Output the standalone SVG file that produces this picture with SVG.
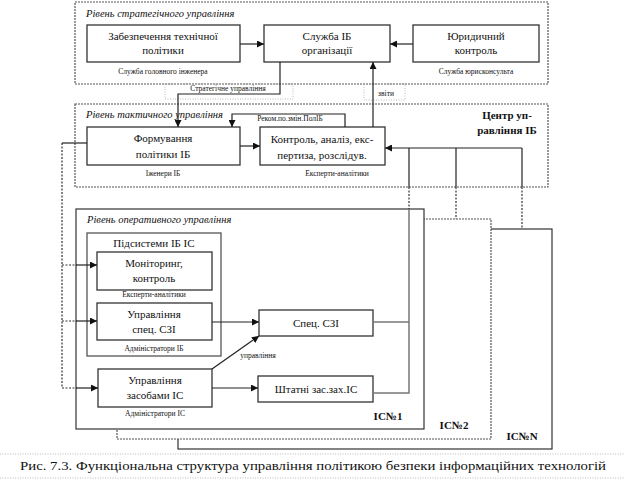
<svg xmlns="http://www.w3.org/2000/svg" width="624" height="481" viewBox="0 0 624 481">
<style>
text{font-family:"Times New Roman","Liberation Serif","DejaVu Serif","Noto Serif",serif;fill:#111}
.n{font-size:11px;text-anchor:middle}
.s{font-size:7.5px;text-anchor:middle}
.lv{font-size:10.5px;font-style:italic}
.b{font-size:11px;font-weight:bold;text-anchor:middle}
.box{fill:#fff;stroke:#333;stroke-width:1.3}
.frame{fill:#fff;stroke:#555;stroke-width:1.2;stroke-dasharray:2,1}
.ic{fill:#fff;stroke:#333;stroke-width:1.2}
.dot{fill:none;stroke:#aaa;stroke-width:0.8;stroke-dasharray:1,1.5}
.c{fill:none;stroke:#222;stroke-width:1.2}
.cd{fill:none;stroke:#333;stroke-width:1.2;stroke-dasharray:2,1.5}
.g{fill:none;stroke:#777;stroke-width:1.5}
</style>
<defs>
<marker id="ah" viewBox="0 0 10 10" refX="10" refY="5" markerWidth="7" markerHeight="7" markerUnits="userSpaceOnUse" orient="auto"><path d="M0,0L10,5L0,10z" fill="#111"/></marker>
</defs>

<g id="strategic-level">
<rect class="frame" x="75" y="2" width="473" height="82"/>
<text class="lv" x="86" y="17">Рівень стратегічного управління</text>
</g>
<g id="tactical-level">
<rect class="frame" x="75" y="104" width="473" height="83"/>
<text class="lv" x="86" y="118">Рівень тактичного управління</text>
<text class="b" x="507" y="119">Центр уп-</text>
<text class="b" x="507" y="134">равління ІБ</text>
</g>

<g id="ic-n">
<rect class="ic" x="178" y="229" width="374" height="220"/>
<text class="b" x="522" y="440">ІС№N</text>
</g>
<g id="ic-2">
<rect class="ic" x="117" y="219" width="374" height="220" style="stroke:#555;stroke-dasharray:2,1"/>
<text class="b" x="454" y="429">ІС№2</text>
</g>
<g id="ic-1">
<rect class="ic" x="76" y="209" width="348" height="220"/>
<text class="lv" x="87" y="223">Рівень оперативного управління</text>
<text class="b" x="388" y="420">ІС№1</text>
</g>

<g id="label-strategic">
<rect class="dot" x="165" y="84" width="128" height="15"/>
<text class="s" x="228" y="91">Стратегічне управління</text>
</g>
<g id="label-reports">
<rect class="dot" x="364" y="84" width="41" height="16"/>
<text class="s" x="386" y="96">звіти</text>
</g>

<g id="tech-policy">
<rect class="box" x="87" y="25" width="153" height="37"/>
<text class="n" x="163" y="40">Забезпечення технічної</text>
<text class="n" x="163" y="54">політики</text>
<text class="s" x="163" y="74">Служба головного інженера</text>
</g>
<g id="ib-service">
<rect class="box" x="264" y="25" width="126" height="37"/>
<text class="n" x="327" y="40">Служба ІБ</text>
<text class="n" x="327" y="54">організації</text>
</g>
<g id="legal">
<rect class="box" x="413" y="25" width="126" height="37"/>
<text class="n" x="476" y="40">Юридичний</text>
<text class="n" x="476" y="54">контроль</text>
<text class="s" x="476" y="74">Служба юрисконсульта</text>
</g>
<g id="policy-forming">
<rect class="box" x="87" y="127" width="153" height="38"/>
<text class="n" x="163" y="142">Формування</text>
<text class="n" x="163" y="158">політики ІБ</text>
<text class="s" x="163" y="176">Іженери ІБ</text>
</g>
<g id="control">
<rect class="box" x="260" y="127" width="125" height="38"/>
<text class="n" x="322" y="143">Контроль, аналіз, екс-</text>
<text class="n" x="322" y="159">пертиза, розслідув.</text>
<text class="s" x="337" y="176">Експерти-аналітики</text>
</g>
<g id="subsystems">
<rect class="box" x="87" y="233" width="134" height="123" style="stroke:#555"/>
<text class="n" x="154" y="247">Підсистеми ІБ ІС</text>
</g>
<g id="monitoring">
<rect class="box" x="97" y="252" width="115" height="38"/>
<text class="n" x="154" y="267">Моніторинг,</text>
<text class="n" x="154" y="282">контроль</text>
<text class="s" x="154" y="297">Експерти-аналітики</text>
</g>
<g id="spec-mgmt">
<rect class="box" x="97" y="303" width="115" height="37"/>
<text class="n" x="154" y="318">Управління</text>
<text class="n" x="154" y="333">спец. СЗІ</text>
<text class="s" x="154" y="351">Адміністратори ІБ</text>
</g>
<g id="spec-szi">
<rect class="box" x="259" y="310" width="114" height="26"/>
<text class="n" x="316" y="327">Спец. СЗІ</text>
</g>
<g id="ic-mgmt">
<rect class="box" x="98" y="369" width="114" height="38"/>
<text class="n" x="155" y="384">Управління</text>
<text class="n" x="155" y="399">засобами ІС</text>
<text class="s" x="155" y="416">Адміністратори ІС</text>
</g>
<g id="std-means">
<rect class="box" x="258" y="376" width="115" height="26"/>
<text class="n" x="316" y="393">Штатні зас.зах.ІС</text>
</g>

<g id="connectors">
<line class="c" x1="240" y1="44" x2="264" y2="44" marker-end="url(#ah)"/>
<line class="c" x1="413" y1="44" x2="390" y2="44" marker-end="url(#ah)"/>
<polyline class="c" points="280,62 280,94 178,94 178,127" marker-end="url(#ah)"/>
<line class="c" x1="373" y1="127" x2="373" y2="62" marker-end="url(#ah)"/>
<polyline class="c" points="345,127 345,114 232,114 232,127" marker-end="url(#ah)"/>
<text class="s" x="290" y="121">Реком.по.змін.ПолІБ</text>
<line class="c" x1="240" y1="146" x2="260" y2="146" marker-end="url(#ah)"/>
<line class="c" x1="522" y1="148" x2="385" y2="148" marker-end="url(#ah)"/>
<line class="c" x1="409" y1="148" x2="409" y2="187"/>
<line class="c" x1="456" y1="148" x2="456" y2="187"/>
<line class="c" x1="522" y1="148" x2="522" y2="187"/>
<line class="cd" x1="409" y1="187" x2="409" y2="209"/>
<line class="cd" x1="456" y1="187" x2="456" y2="219"/>
<line class="cd" x1="522" y1="187" x2="522" y2="229"/>
<polyline class="g" points="373,322 409,322"/>
<polyline class="g" points="373,393 409,393 409,209"/>
<line class="c" x1="87" y1="143" x2="62" y2="143"/>
<polyline class="cd" points="62,143 62,388"/>
<polyline class="cd" points="62,265 77,265"/>
<polyline class="cd" points="62,321 77,321"/>
<polyline class="cd" points="62,388 77,388"/>
<line class="c" x1="76" y1="265" x2="97" y2="265" marker-end="url(#ah)"/>
<line class="c" x1="76" y1="321" x2="97" y2="321" marker-end="url(#ah)"/>
<line class="c" x1="76" y1="388" x2="98" y2="388" marker-end="url(#ah)"/>
<line class="c" x1="212" y1="322" x2="259" y2="322" marker-end="url(#ah)"/>
<line class="c" x1="212" y1="388" x2="258" y2="388" marker-end="url(#ah)"/>
<line class="c" x1="212" y1="369" x2="259" y2="336" marker-end="url(#ah)"/>
<text class="s" x="258" y="358">управління</text>
</g>

<g id="caption">
<line class="dot" x1="0" y1="454" x2="624" y2="454"/>
<line class="dot" x1="0" y1="478" x2="624" y2="478"/>
<text x="20" y="470" style="font-size:13.5px" textLength="586" lengthAdjust="spacingAndGlyphs">Рис. 7.3. Функціональна структура управління політикою безпеки інформаційних технологій</text>
</g>
</svg>
